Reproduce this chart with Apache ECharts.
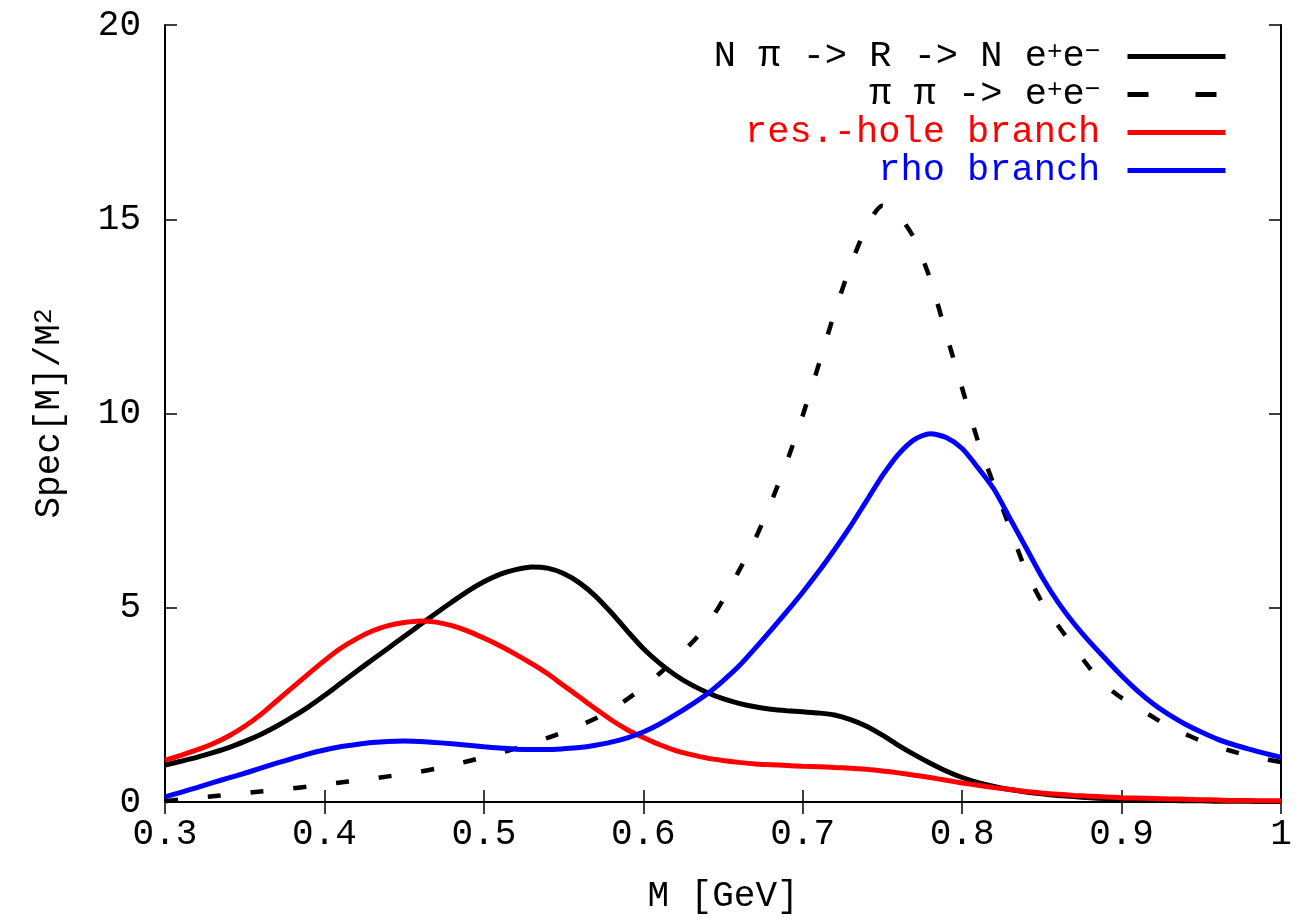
<!DOCTYPE html>
<html>
<head>
<meta charset="utf-8">
<script src="https://cdn.jsdelivr.net/npm/echarts@6/dist/echarts.min.js"></script>
<style>html,body{margin:0;padding:0;background:#fff}#c{width:1299px;height:919px}</style>
</head>
<body>
<div id="c"></div>
<script>
// M [GeV] sample points
const M = [0.30,0.31,0.32,0.33,0.34,0.35,0.36,0.37,0.38,0.39,0.40,0.41,0.42,0.43,0.44,0.45,0.46,0.47,0.48,0.49,
0.50,0.51,0.52,0.53,0.54,0.55,0.56,0.57,0.58,0.59,0.60,0.61,0.62,0.63,0.64,0.65,0.66,0.67,0.68,0.69,
0.70,0.71,0.72,0.73,0.74,0.75,0.76,0.77,0.78,0.79,0.80,0.81,0.82,0.83,0.84,0.85,0.86,0.87,0.88,0.89,
0.90,0.91,0.92,0.93,0.94,0.95,0.96,0.97,0.98,0.99,1.00];

// N pi -> R -> N e+e-
const nPiRes = [0.95,1.05,1.15,1.27,1.40,1.56,1.74,1.95,2.19,2.45,2.74,3.05,3.36,3.66,3.96,4.26,4.56,4.86,5.15,5.43,
5.67,5.86,5.98,6.05,6.02,5.88,5.64,5.30,4.87,4.40,3.95,3.58,3.27,3.02,2.82,2.66,2.54,2.45,2.39,2.35,
2.32,2.29,2.24,2.12,1.95,1.72,1.46,1.22,1.00,0.80,0.63,0.50,0.40,0.32,0.26,0.21,0.17,0.14,0.11,0.09,
0.07,0.06,0.05,0.04,0.03,0.03,0.02,0.02,0.02,0.01,0.01];

// pi pi -> e+e-
const piPi = [0.02,0.07,0.11,0.15,0.19,0.23,0.27,0.31,0.35,0.40,0.45,0.50,0.55,0.60,0.66,0.72,0.78,0.86,0.95,1.05,
1.15,1.26,1.38,1.50,1.65,1.80,1.97,2.15,2.38,2.65,2.95,3.30,3.68,4.08,4.55,5.20,5.95,6.75,7.70,8.75,
9.95,11.25,12.60,13.80,14.80,15.35,15.10,14.50,13.45,12.05,10.65,9.28,8.15,7.05,5.95,5.15,4.55,4.00,3.45,3.00,
2.68,2.42,2.18,1.93,1.75,1.57,1.42,1.30,1.18,1.10,1.03];

// res.-hole branch
const resHole = [1.07,1.20,1.34,1.50,1.70,1.95,2.25,2.60,2.95,3.30,3.64,3.95,4.20,4.40,4.54,4.62,4.66,4.63,4.54,4.40,
4.22,4.02,3.80,3.56,3.30,3.00,2.70,2.40,2.11,1.86,1.66,1.48,1.33,1.22,1.13,1.07,1.02,0.98,0.96,0.94,
0.92,0.91,0.89,0.87,0.84,0.80,0.75,0.69,0.63,0.56,0.49,0.43,0.37,0.32,0.27,0.23,0.20,0.17,0.15,0.13,
0.11,0.10,0.09,0.08,0.07,0.06,0.05,0.04,0.04,0.03,0.03];

// rho branch
const rhoBranch = [0.13,0.25,0.37,0.50,0.62,0.74,0.87,1.00,1.12,1.24,1.34,1.42,1.48,1.53,1.56,1.57,1.56,1.53,1.50,1.46,
1.42,1.39,1.36,1.35,1.35,1.37,1.40,1.46,1.54,1.65,1.80,2.00,2.24,2.50,2.78,3.12,3.50,3.95,4.42,4.90,
5.40,5.93,6.50,7.10,7.75,8.40,8.95,9.33,9.48,9.38,9.10,8.60,8.05,7.30,6.55,5.80,5.15,4.60,4.12,3.68,
3.25,2.86,2.52,2.24,2.00,1.80,1.62,1.48,1.36,1.25,1.15];

const seriesNames = ['N π -> R -> N e+e-', 'π π -> e+e-', 'res.-hole branch', 'rho branch'];
const legendLabels = ['N π -> R -> N e{sup|+}e{sup|−} ', 'π π -> e{sup|+}e{sup|−} ', 'res.-hole branch ', 'rho branch '];
const xTicks = {min: 0.3, max: 1.0, interval: 0.1};
const yTicks = {min: 0, max: 20, interval: 5};

const FONT = 'Liberation Mono';
const pairs = arr => M.map((m, i) => [m, arr[i]]);

const chart = echarts.init(document.getElementById('c'), null, {renderer: 'canvas'});

const axisCommon = {
  axisLine: {show: true, lineStyle: {color: '#000', width: 2}},
  axisTick: {show: true, inside: true, length: 12, lineStyle: {color: '#000', width: 1.5}},
  splitLine: {show: false}
};

const hiddenSymbol = {color: 'rgba(0,0,0,0)', borderWidth: 0, borderColor: 'rgba(0,0,0,0)'};

const option = {
  animation: false,
  backgroundColor: '#fff',
  grid: {left: 165, right: 18, top: 25, bottom: 114, show: false},
  xAxis: [
    Object.assign({
      type: 'value', min: xTicks.min, max: xTicks.max, interval: xTicks.interval, position: 'bottom',
      name: 'M [GeV]', nameLocation: 'middle', nameGap: 76,
      nameTextStyle: {fontFamily: FONT, fontSize: 36, color: '#000'},
      axisLabel: {fontFamily: FONT, fontSize: 36, color: '#000', margin: 14,
        formatter: v => String(parseFloat(v.toFixed(2)))}
    }, axisCommon),
    Object.assign({
      type: 'value', min: xTicks.min, max: xTicks.max, interval: xTicks.interval, position: 'top',
      axisLabel: {show: false}
    }, axisCommon)
  ],
  yAxis: [
    Object.assign({
      type: 'value', min: yTicks.min, max: yTicks.max, interval: yTicks.interval, position: 'left',
      name: 'Spec[M]/M{sup|2}', nameLocation: 'middle', nameGap: 98,
      nameTextStyle: {fontFamily: FONT, fontSize: 36, color: '#000',
        rich: {sup: {fontFamily: FONT, fontSize: 26, verticalAlign: 'top', lineHeight: 20, color: '#000'}}},
      axisLabel: {fontFamily: FONT, fontSize: 36, color: '#000', margin: 24}
    }, axisCommon),
    Object.assign({
      type: 'value', min: yTicks.min, max: yTicks.max, interval: yTicks.interval, position: 'right',
      axisLabel: {show: false}
    }, axisCommon)
  ],
  legend: {
    orient: 'vertical', right: 66, top: 33, align: 'right',
    itemWidth: 98, itemHeight: 6, itemGap: 1,
    itemStyle: hiddenSymbol,
    lineStyle: {width: 5},
    textStyle: {fontFamily: FONT, fontSize: 37, lineHeight: 34,
      rich: {sup: {fontFamily: FONT, fontSize: 26, lineHeight: 18, verticalAlign: 'top'}}},
    formatter: name => legendLabels[seriesNames.indexOf(name)],
    data: [
      {name: seriesNames[0], itemStyle: hiddenSymbol, lineStyle: {width: 5, type: 'solid', color: '#000'}, textStyle: {color: '#000'}},
      {name: seriesNames[1], itemStyle: hiddenSymbol, lineStyle: {width: 5, type: [21, 47], color: '#000'}, textStyle: {color: '#000'}},
      {name: seriesNames[2], itemStyle: hiddenSymbol, lineStyle: {width: 5, type: 'solid', color: '#ff0000'}, textStyle: {color: '#ff0000'}},
      {name: seriesNames[3], itemStyle: hiddenSymbol, lineStyle: {width: 5, type: 'solid', color: '#0000ff'}, textStyle: {color: '#0000ff'}}
    ]
  },
  series: [
    {name: seriesNames[0], type: 'line', data: pairs(nPiRes), showSymbol: false, symbol: 'none', smooth: 0.25, z: 2,
      lineStyle: {color: '#000', width: 5}, itemStyle: {color: '#000'}},
    {name: seriesNames[1], type: 'line', data: pairs(piPi), showSymbol: false, symbol: 'none', smooth: 0.25, z: 3,
      lineStyle: {color: '#000', width: 4.5, type: [13, 30]}, itemStyle: {color: '#000'}},
    {name: seriesNames[2], type: 'line', data: pairs(resHole), showSymbol: false, symbol: 'none', smooth: 0.25, z: 4,
      lineStyle: {color: '#ff0000', width: 5}, itemStyle: {color: '#ff0000'}},
    {name: seriesNames[3], type: 'line', data: pairs(rhoBranch), showSymbol: false, symbol: 'none', smooth: 0.25, z: 5,
      lineStyle: {color: '#0000ff', width: 5}, itemStyle: {color: '#0000ff'}}
  ]
};
chart.setOption(option);
</script>
</body>
</html>
